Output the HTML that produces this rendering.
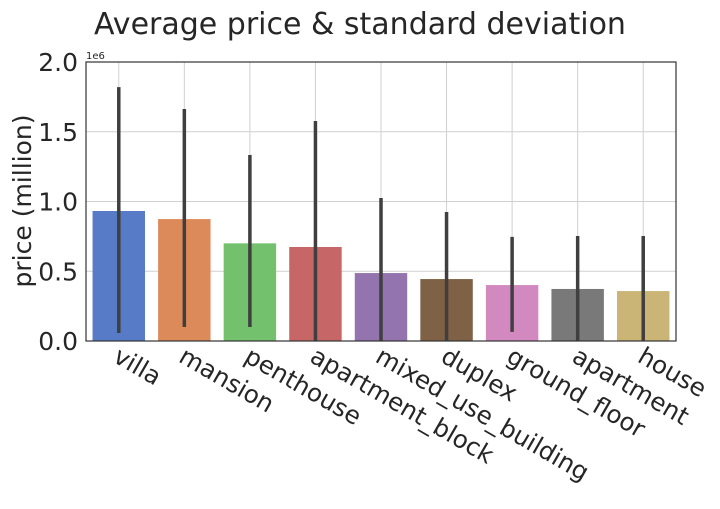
<!DOCTYPE html>
<html><head><meta charset="utf-8"><style>
body{margin:0;background:#fff}
svg text{font-family:"DejaVu Sans","Liberation Sans",sans-serif;fill:#262626}
</style></head><body>
<svg width="720" height="504" viewBox="0 0 720 504">
<text x="360" y="34" font-size="30" text-anchor="middle">Average price &amp; standard deviation</text>
<g id="grid"></g><g id="bars"></g><g id="err"></g><g id="axes"></g>
<rect x="86" y="62" width="590" height="279" fill="none" stroke="#333" stroke-width="1.2"/>
<text x="86" y="59" font-size="10">1e6</text>
<text transform="translate(31,201) rotate(-90)" font-size="25" text-anchor="middle">price (million)</text>
</svg>
<script>
const categories=["villa","mansion","penthouse","apartment_block","mixed_use_building","duplex","ground_floor","apartment","house"];
const means=[0.932,0.874,0.70,0.674,0.487,0.444,0.401,0.373,0.358];
const errLow=[0.057,0.10,0.10,0.0,0.0,0.0,0.065,0.0,0.0];
const errHigh=[1.82,1.663,1.333,1.577,1.025,0.925,0.746,0.753,0.753];
const yTicks=[0,0.5,1.0,1.5,2.0];
const yTickLabels=["0.0","0.5","1.0","1.5","2.0"];
const colors=["#587bc7","#dd8a5a","#73c16d","#c76666","#9474ae","#7f6145","#d189bf","#797979","#cab577"];
const L=86,R=676,T=62,B=341,step=(R-L)/categories.length;
const y=v=>B-(v/2.0)*(B-T);
const x=i=>L+step*(i+0.5);
const NS="http://www.w3.org/2000/svg";
function mk(p,t,a){const e=document.createElementNS(NS,t);for(const k in a)e.setAttribute(k,a[k]);document.getElementById(p).appendChild(e);return e;}
yTicks.forEach((v,i)=>{
 const g=mk("grid","line",{x1:L,x2:R,y1:y(v),y2:y(v),stroke:"#d0d0d0","stroke-width":1});
 
 
 const t=mk("axes","text",{x:L-8,y:y(v)+9,"font-size":25,"text-anchor":"end"});
 t.textContent=yTickLabels[i];
 
 
});
categories.forEach((c,i)=>{
 const g=mk("grid","line",{x1:x(i),x2:x(i),y1:T,y2:B,stroke:"#d0d0d0","stroke-width":1});
 
 
 const w=step*0.8;
 const b=mk("bars","rect",{x:x(i)-w/2,y:y(means[i]),width:w,height:B-y(means[i]),fill:colors[i]});
 
 
 const e=mk("err","line",{x1:x(i),x2:x(i),y1:y(errHigh[i]),y2:y(errLow[i]),stroke:"#3f3f3f","stroke-width":3.5});
 
 
 const t=mk("axes","text",{transform:`translate(${x(i)-7},${B+20}) rotate(30)`,"font-size":24.5});
 t.textContent=c;
 
 
});
</script>
</body></html>
